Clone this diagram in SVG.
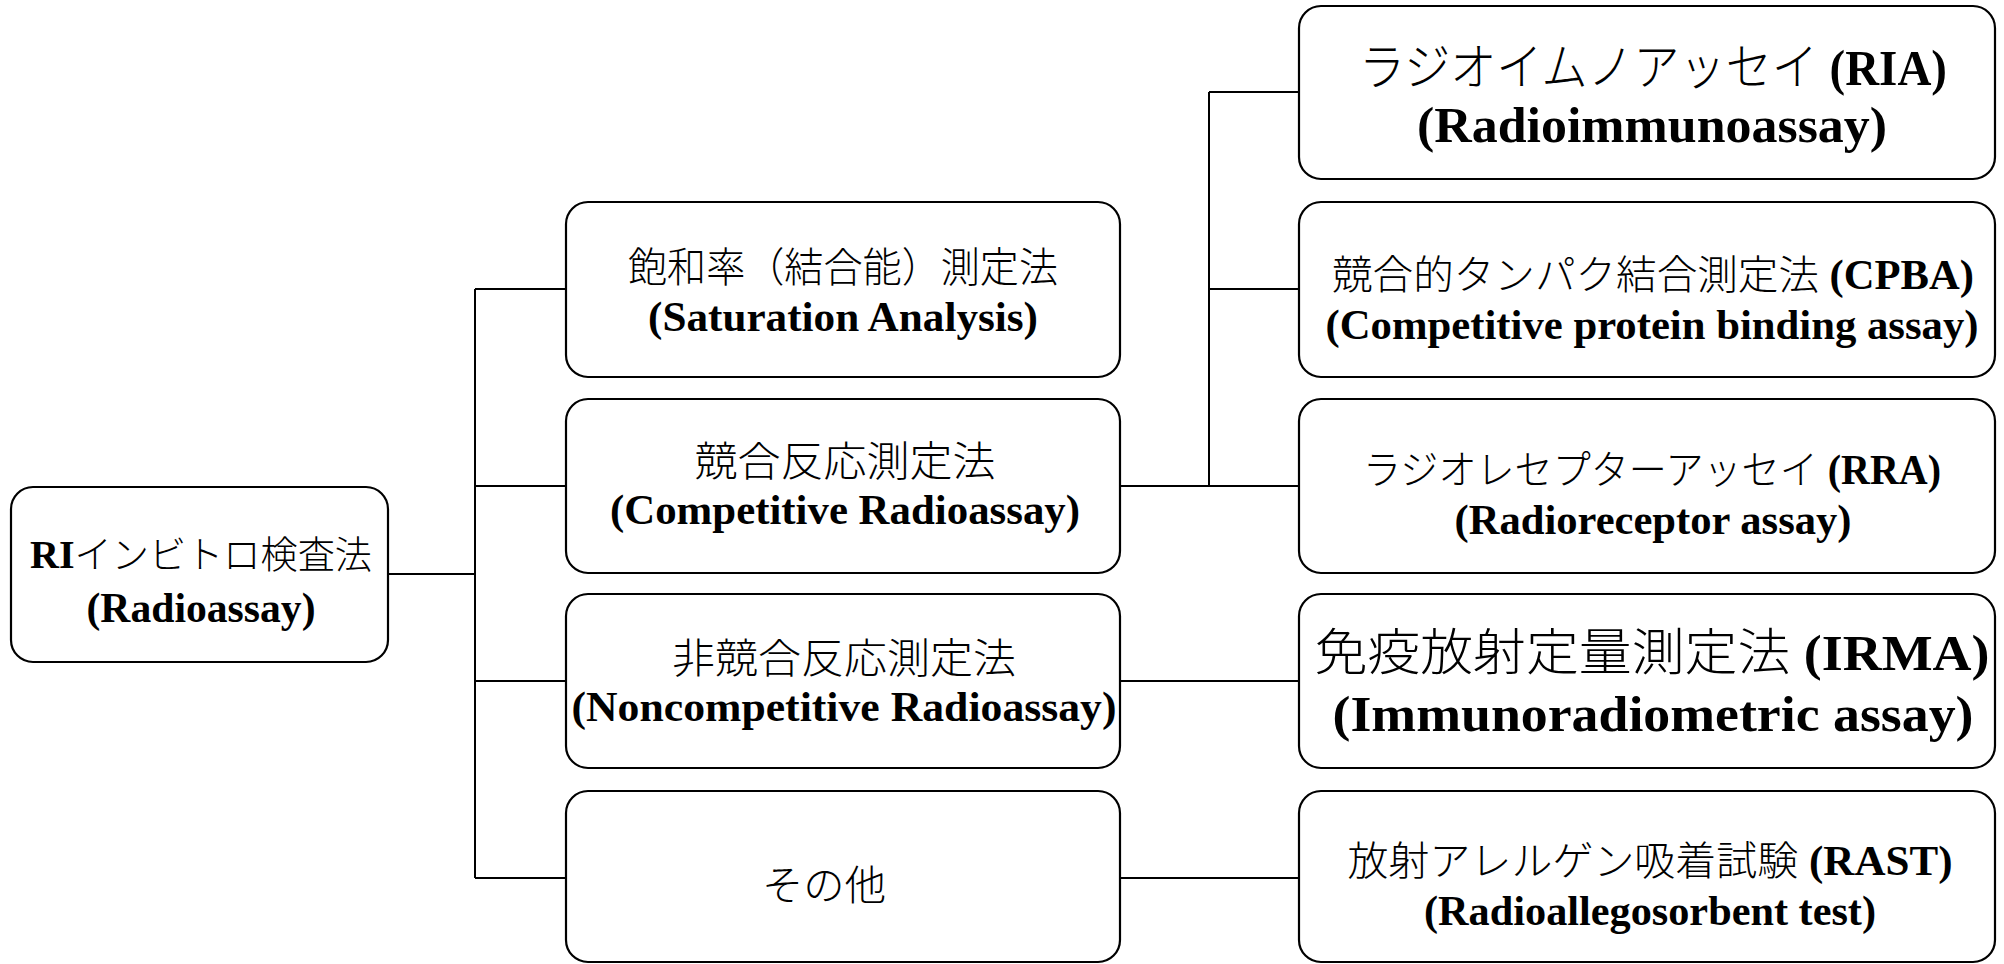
<svg xmlns="http://www.w3.org/2000/svg" width="2004" height="964" viewBox="0 0 2004 964">
<style>
.box{fill:#fff;stroke:#000;stroke-width:2.2}
.ln{fill:none;stroke:#000;stroke-width:2}
text{text-anchor:middle;fill:#000}
.j{font-family:"Noto Sans CJK JP","Noto Sans CJK SC",sans-serif;font-weight:300}
.e{font-family:"Liberation Serif","Times New Roman",serif;font-weight:bold}
</style>
<rect width="2004" height="964" fill="#fff"/>
<g id="connectors">
<path class="ln" d="M388,574H475M475,289V878M475,289H566M475,486H566M475,681H566M475,878H566"/>
<path class="ln" d="M1120,486H1209M1209,92V486M1209,92H1299M1209,289H1299M1209,486H1299"/>
<path class="ln" d="M1120,681H1299M1120,878H1299"/>
</g>
<g id="root">
<rect class="box" x="11" y="487" width="377" height="175" rx="22"/>
<text x="201" y="568" textLength="342" lengthAdjust="spacingAndGlyphs"><tspan class="e" font-size="41">RI</tspan><tspan class="j" font-size="38">インビトロ検査法</tspan></text>
<text class="e" x="201" y="622" font-size="42" textLength="229" lengthAdjust="spacingAndGlyphs">(Radioassay)</text>
</g>
<g id="saturation">
<rect class="box" x="566" y="202" width="554" height="175" rx="22"/>
<text class="j" x="843" y="282" font-size="41" textLength="430" lengthAdjust="spacingAndGlyphs">飽和率（結合能）測定法</text>
<text class="e" x="843" y="331" font-size="42" textLength="390" lengthAdjust="spacingAndGlyphs">(Saturation Analysis)</text>
</g>
<g id="competitive">
<rect class="box" x="566" y="399" width="554" height="174" rx="22"/>
<text class="j" x="845" y="476" font-size="41" textLength="301" lengthAdjust="spacingAndGlyphs">競合反応測定法</text>
<text class="e" x="845" y="524" font-size="42" textLength="470" lengthAdjust="spacingAndGlyphs">(Competitive Radioassay)</text>
</g>
<g id="noncompetitive">
<rect class="box" x="566" y="594" width="554" height="174" rx="22"/>
<text class="j" x="844" y="673" font-size="41" textLength="344" lengthAdjust="spacingAndGlyphs">非競合反応測定法</text>
<text class="e" x="844" y="721" font-size="42" textLength="545" lengthAdjust="spacingAndGlyphs">(Noncompetitive Radioassay)</text>
</g>
<g id="other">
<rect class="box" x="566" y="791" width="554" height="171" rx="22"/>
<text class="j" x="824" y="900" font-size="41" textLength="124" lengthAdjust="spacingAndGlyphs">その他</text>
</g>
<g id="ria">
<rect class="box" x="1299" y="6" width="696" height="173" rx="22"/>
<text x="1653" y="85" textLength="588" lengthAdjust="spacingAndGlyphs"><tspan class="j" font-size="50">ラジオイムノアッセイ</tspan><tspan class="e" font-size="51"> (RIA)</tspan></text>
<text class="e" x="1652" y="142" font-size="51" textLength="470" lengthAdjust="spacingAndGlyphs">(Radioimmunoassay)</text>
</g>
<g id="cpba">
<rect class="box" x="1299" y="202" width="696" height="175" rx="22"/>
<text x="1653" y="289" textLength="642" lengthAdjust="spacingAndGlyphs"><tspan class="j" font-size="40">競合的タンパク結合測定法</tspan><tspan class="e" font-size="42"> (CPBA)</tspan></text>
<text class="e" x="1652" y="339" font-size="42" textLength="653" lengthAdjust="spacingAndGlyphs">(Competitive protein binding assay)</text>
</g>
<g id="rra">
<rect class="box" x="1299" y="399" width="696" height="174" rx="22"/>
<text x="1652" y="484" textLength="578" lengthAdjust="spacingAndGlyphs"><tspan class="j" font-size="40">ラジオレセプターアッセイ</tspan><tspan class="e" font-size="42"> (RRA)</tspan></text>
<text class="e" x="1653" y="534" font-size="42" textLength="397" lengthAdjust="spacingAndGlyphs">(Radioreceptor assay)</text>
</g>
<g id="irma">
<rect class="box" x="1299" y="594" width="696" height="174" rx="22"/>
<text x="1652" y="670" textLength="675" lengthAdjust="spacingAndGlyphs"><tspan class="j" font-size="50">免疫放射定量測定法</tspan><tspan class="e" font-size="51"> (IRMA)</tspan></text>
<text class="e" x="1653" y="731" font-size="51" textLength="641" lengthAdjust="spacingAndGlyphs">(Immunoradiometric assay)</text>
</g>
<g id="rast">
<rect class="box" x="1299" y="791" width="696" height="171" rx="22"/>
<text x="1650" y="875" textLength="605" lengthAdjust="spacingAndGlyphs"><tspan class="j" font-size="40">放射アレルゲン吸着試験</tspan><tspan class="e" font-size="42"> (RAST)</tspan></text>
<text class="e" x="1650" y="925" font-size="42" textLength="452" lengthAdjust="spacingAndGlyphs">(Radioallegosorbent test)</text>
</g>
</svg>
